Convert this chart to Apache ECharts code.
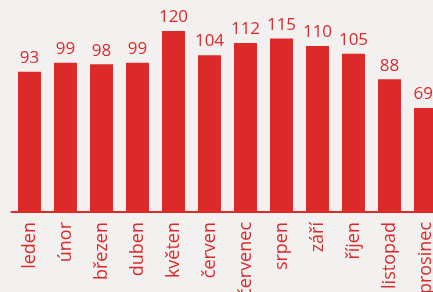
<!DOCTYPE html>
<html>
<head>
<meta charset="utf-8">
<script src="https://cdn.jsdelivr.net/npm/echarts@6/dist/echarts.min.js"></script>
<style>
  html, body { margin: 0; padding: 0; background: #f3f1ef; }
  #main { width: 433px; height: 292px; }
</style>
</head>
<body>
<div id="main"></div>
<script>
var months = ["leden", "únor", "březen", "duben", "květen", "červen",
  "červenec", "srpen", "září", "říjen", "listopad", "prosinec"];
var values = [93, 99, 98, 99, 120, 104, 112, 115, 110, 105, 88, 69];

var red = "#dc2a2b";
var myChart = echarts.init(document.getElementById("main"));

myChart.setOption({
  backgroundColor: "#f3f1ef",
  animation: false,
  textStyle: { fontFamily: "Open Sans" },
  grid: {
    left: 11.5,
    top: 31,
    width: 432,
    height: 181,
    containLabel: false,
    outerBoundsMode: "none",
  },
  xAxis: {
    type: "category",
    data: months,
    axisLine: { show: true, lineStyle: { color: red, width: 2 } },
    axisTick: { show: false },
    axisLabel: {
      rotate: 90,
      interval: 0,
      margin: 10,
      color: red,
      fontSize: 18,
      fontFamily: "Open Sans",
    },
  },
  yAxis: {
    type: "value",
    min: 0,
    max: 120,
    show: false,
    splitLine: { show: false },
  },
  series: [
    {
      type: "bar",
      data: values,
      barWidth: 23,
      itemStyle: { color: red },
      label: {
        show: true,
        position: "top",
        distance: 5,
        color: red,
        fontSize: 17,
        fontFamily: "Open Sans",
      },
      // keep value labels inside the canvas
      labelLayout: function (p) {
        var r = p.labelRect;
        var over = r.x + r.width - 433;
        return over > 0 ? { dx: -over } : {};
      },
    },
  ],
});
</script>
</body>
</html>
